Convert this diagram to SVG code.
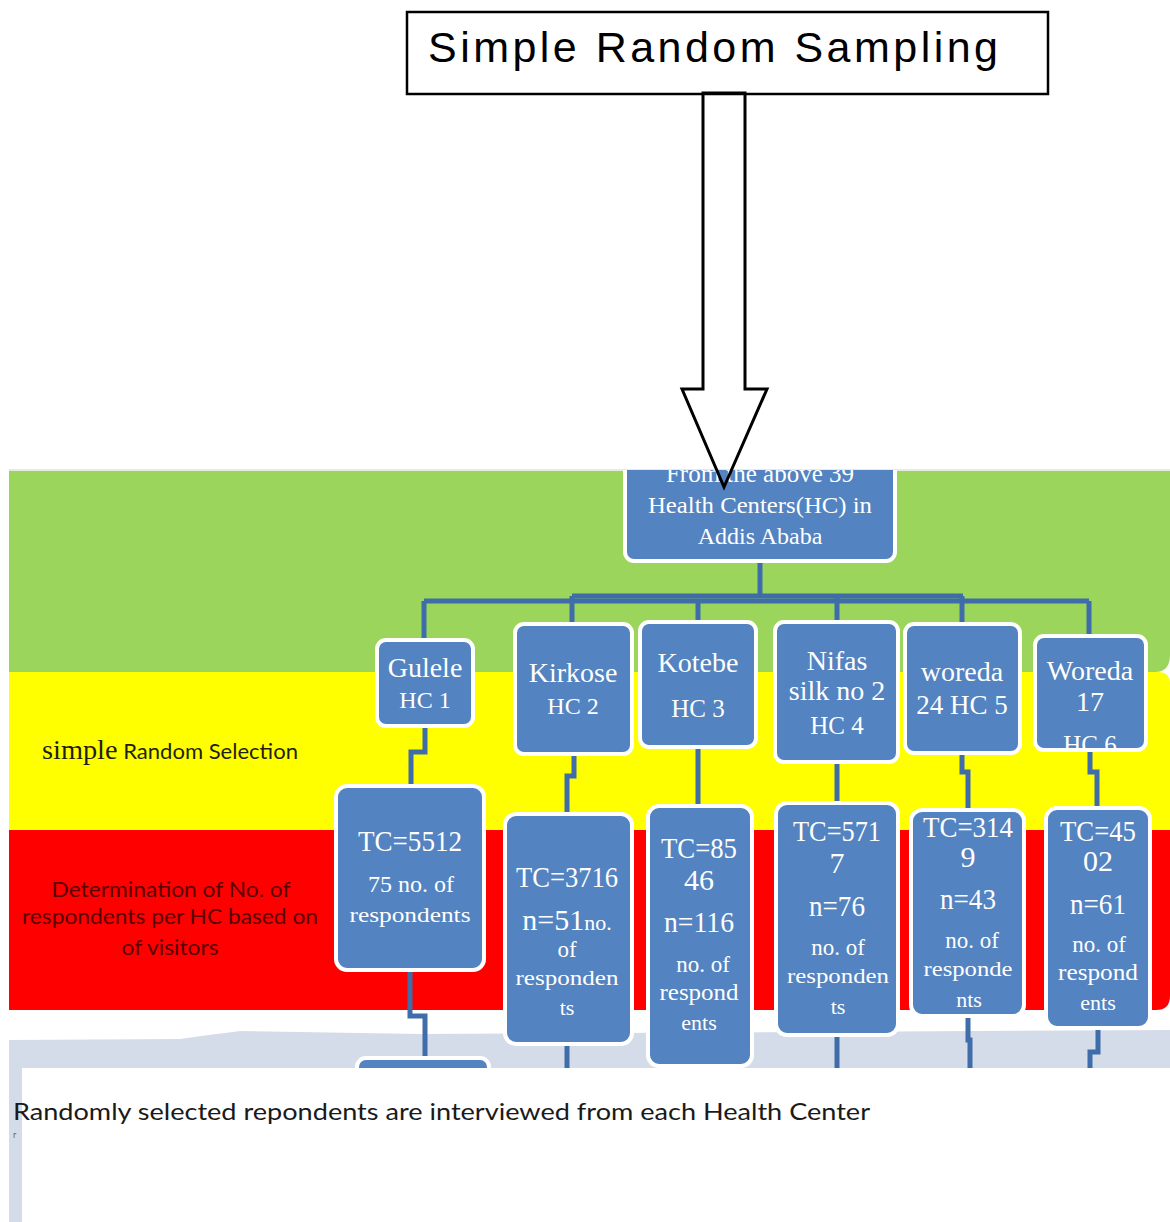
<svg xmlns="http://www.w3.org/2000/svg" width="1170" height="1222" viewBox="0 0 1170 1222">
<style>
.box{fill:#5383C0;stroke:#ffffff;stroke-width:4}
.conn{stroke:#3F6DAA;stroke-width:5;fill:none;stroke-linejoin:miter}
.nt{fill:#ffffff;font-family:"Liberation Serif","DejaVu Serif",serif;text-anchor:middle}
.lbl{font-family:"Lato","Open Sans",sans-serif;text-anchor:middle}
</style>
<defs>
<clipPath id="clipTop"><rect x="0" y="470" width="1170" height="752"/></clipPath>
<clipPath id="c6"><rect x="1035" y="636" width="111" height="113"/></clipPath>
</defs>
<rect x="0" y="0" width="1170" height="1222" fill="#ffffff"/>

<!-- background bands -->
<g id="bands">
<rect x="9" y="469" width="1161" height="3" fill="#e4ecdc"/>
<path d="M9,471 H1170 V655 Q1170,672 1155,672 H9 Z" fill="#9BD55C"/>
<path d="M9,672 H1158 Q1170,672 1170,684 V830 H9 Z" fill="#FFFF00"/>
<path d="M9,830 H1170 V996 Q1170,1010 1156,1010 H9 Z" fill="#FF0000"/>
<path d="M9,1040 L180,1039 Q215,1034 240,1031 L420,1034 L1170,1030 V1222 H9 Z" fill="#D5DCE9"/>
</g>

<!-- connectors -->
<g id="connectors">
<path class="conn" d="M760,562 V596"/>
<path class="conn" d="M572,596 H963"/>
<path class="conn" d="M424,601 H1089"/>
<path class="conn" d="M424,601 V640"/>
<path class="conn" d="M572,596 V624"/>
<path class="conn" d="M698,601 V622"/>
<path class="conn" d="M837,596 V622"/>
<path class="conn" d="M962,596 V624"/>
<path class="conn" d="M1089,601 V636"/>
<path class="conn" d="M425,726 V752 H411 V786"/>
<path class="conn" d="M574,754 V776 H567 V814"/>
<path class="conn" d="M698,747 V806"/>
<path class="conn" d="M837,762 V803"/>
<path class="conn" d="M962,753 V772 H968 V810"/>
<path class="conn" d="M1090,750 V772 H1097 V808"/>
<path class="conn" d="M410,970 V1016 H425 V1058"/>
<path class="conn" d="M567,1044 V1068"/>
<path class="conn" d="M837,1035 V1068"/>
<path class="conn" d="M968,1016 V1040 H970 V1068"/>
<path class="conn" d="M1098,1028 V1052 H1090 V1068"/>
</g>

<!-- root node -->
<g id="root" clip-path="url(#clipTop)">
<rect class="box" x="625" y="452" width="270" height="109" rx="9"/>
<text class="nt" x="760" y="482" font-size="25">From the above 39</text>
<text class="nt" x="760" y="513" font-size="24" textLength="224" lengthAdjust="spacingAndGlyphs">Health Centers(HC) in</text>
<text class="nt" x="760" y="544" font-size="24">Addis Ababa</text>
</g>

<!-- HC nodes -->
<g id="hc1">
<rect class="box" x="377" y="640" width="96" height="86" rx="9"/>
<text class="nt" x="425" y="677" font-size="28">Gulele</text>
<text class="nt" x="425" y="708" font-size="24">HC 1</text>
</g>
<g id="hc2">
<rect class="box" x="515" y="624" width="117" height="130" rx="9"/>
<text class="nt" x="573" y="682" font-size="28">Kirkose</text>
<text class="nt" x="573" y="714" font-size="24">HC 2</text>
</g>
<g id="hc3">
<rect class="box" x="640" y="622" width="116" height="125" rx="9"/>
<text class="nt" x="698" y="672" font-size="28">Kotebe</text>
<text class="nt" x="698" y="717" font-size="25">HC 3</text>
</g>
<g id="hc4">
<rect class="box" x="775" y="622" width="123" height="140" rx="9"/>
<text class="nt" x="837" y="670" font-size="28">Nifas</text>
<text class="nt" x="837" y="700" font-size="28">silk no 2</text>
<text class="nt" x="837" y="734" font-size="25">HC 4</text>
</g>
<g id="hc5">
<rect class="box" x="905" y="624" width="115" height="129" rx="9"/>
<text class="nt" x="962" y="681" font-size="28">woreda</text>
<text class="nt" x="962" y="714" font-size="27">24 HC 5</text>
</g>
<g id="hc6">
<rect class="box" x="1035" y="636" width="111" height="114" rx="9"/>
<text class="nt" x="1090" y="680" font-size="28">Woreda</text>
<text class="nt" x="1090" y="711" font-size="28">17</text>
<text class="nt" x="1090" y="753" font-size="25" clip-path="url(#c6)">HC 6</text>
</g>

<!-- TC nodes -->
<g id="tc1">
<rect class="box" x="336" y="786" width="148" height="184" rx="11"/>
<text class="nt" x="410" y="851" font-size="30" textLength="104" lengthAdjust="spacingAndGlyphs">TC=5512</text>
<text class="nt" x="411" y="892" font-size="24">75 no. of</text>
<text class="nt" x="410" y="922" font-size="22" textLength="121" lengthAdjust="spacingAndGlyphs">respondents</text>
</g>
<g id="tc2">
<rect class="box" x="505" y="814" width="127" height="230" rx="11"/>
<text class="nt" x="567" y="887" font-size="30" textLength="102" lengthAdjust="spacingAndGlyphs">TC=3716</text>
<text class="nt" x="567" y="930"><tspan font-size="30">n=51</tspan><tspan font-size="22">no.</tspan></text>
<text class="nt" x="567" y="957" font-size="23">of</text>
<text class="nt" x="567" y="985" font-size="22" textLength="103" lengthAdjust="spacingAndGlyphs">responden</text>
<text class="nt" x="567" y="1015" font-size="22">ts</text>
</g>
<g id="tc3">
<rect class="box" x="648" y="806" width="104" height="260" rx="11"/>
<text class="nt" x="699" y="858" font-size="30" textLength="76" lengthAdjust="spacingAndGlyphs">TC=85</text>
<text class="nt" x="699" y="890" font-size="30">46</text>
<text class="nt" x="699" y="932" font-size="30" textLength="70" lengthAdjust="spacingAndGlyphs">n=116</text>
<text class="nt" x="703" y="972" font-size="23">no. of</text>
<text class="nt" x="699" y="1000" font-size="23" textLength="79" lengthAdjust="spacingAndGlyphs">respond</text>
<text class="nt" x="699" y="1030" font-size="22">ents</text>
</g>
<g id="tc4">
<rect class="box" x="776" y="803" width="122" height="232" rx="11"/>
<text class="nt" x="837" y="841" font-size="30" textLength="88" lengthAdjust="spacingAndGlyphs">TC=571</text>
<text class="nt" x="837" y="873" font-size="30">7</text>
<text class="nt" x="837" y="916" font-size="30" textLength="56" lengthAdjust="spacingAndGlyphs">n=76</text>
<text class="nt" x="838" y="955" font-size="23">no. of</text>
<text class="nt" x="838" y="983" font-size="22" textLength="102" lengthAdjust="spacingAndGlyphs">responden</text>
<text class="nt" x="838" y="1014" font-size="22">ts</text>
</g>
<g id="tc5">
<rect class="box" x="911" y="810" width="113" height="206" rx="11"/>
<text class="nt" x="968" y="837" font-size="30" textLength="90" lengthAdjust="spacingAndGlyphs">TC=314</text>
<text class="nt" x="968" y="867" font-size="30">9</text>
<text class="nt" x="968" y="909" font-size="30" textLength="56" lengthAdjust="spacingAndGlyphs">n=43</text>
<text class="nt" x="972" y="948" font-size="23">no. of</text>
<text class="nt" x="968" y="976" font-size="22" textLength="89" lengthAdjust="spacingAndGlyphs">responde</text>
<text class="nt" x="969" y="1007" font-size="22">nts</text>
</g>
<g id="tc6">
<rect class="box" x="1046" y="808" width="104" height="220" rx="11"/>
<text class="nt" x="1098" y="841" font-size="30" textLength="76" lengthAdjust="spacingAndGlyphs">TC=45</text>
<text class="nt" x="1098" y="871" font-size="30">02</text>
<text class="nt" x="1098" y="914" font-size="30" textLength="56" lengthAdjust="spacingAndGlyphs">n=61</text>
<text class="nt" x="1099" y="952" font-size="23">no. of</text>
<text class="nt" x="1098" y="980" font-size="23" textLength="80" lengthAdjust="spacingAndGlyphs">respond</text>
<text class="nt" x="1098" y="1010" font-size="22">ents</text>
</g>
<g id="hidden-node">
<rect class="box" x="357" y="1058" width="132" height="40" rx="9"/>
</g>

<!-- left labels -->
<g id="label-selection">
<text class="lbl" x="170" y="759" fill="#1f1f10" textLength="256" lengthAdjust="spacingAndGlyphs"><tspan font-family="Liberation Serif, serif" font-size="27">simple</tspan><tspan font-size="21"> Random Selection</tspan></text>
</g>
<g id="label-determination" fill="#5a0000">
<text class="lbl" x="171" y="897" font-size="21" textLength="239" lengthAdjust="spacingAndGlyphs">Determination of No. of</text>
<text class="lbl" x="170" y="924" font-size="21" textLength="296" lengthAdjust="spacingAndGlyphs">respondents per HC based on</text>
<text class="lbl" x="170" y="955" font-size="21" textLength="97" lengthAdjust="spacingAndGlyphs">of visitors</text>
</g>

<!-- bottom panel -->
<g id="bottom">
<rect x="22" y="1068" width="1148" height="154" fill="#ffffff"/>
<text x="13" y="1120" font-family="Lato, 'Open Sans', sans-serif" font-size="24" fill="#1a1a1a" textLength="857" lengthAdjust="spacingAndGlyphs">Randomly selected repondents are interviewed from each Health Center</text>
<text x="13" y="1138" font-family="Lato, sans-serif" font-size="9" fill="#666666">r</text>
</g>

<!-- top box and arrow -->
<g id="top">
<rect x="407" y="12" width="641" height="82" fill="#ffffff" stroke="#000000" stroke-width="2.5"/>
<text x="428" y="62" font-family="'Liberation Sans', Arial, sans-serif" font-size="43" fill="#000000" textLength="570" lengthAdjust="spacing">Simple Random Sampling</text>
</g>
<g id="arrow">
<polygon points="703,93 745,93 745,389 767,389 724,487 682,389 703,389" fill="none" stroke="#000000" stroke-width="3"/>
</g>
</svg>
